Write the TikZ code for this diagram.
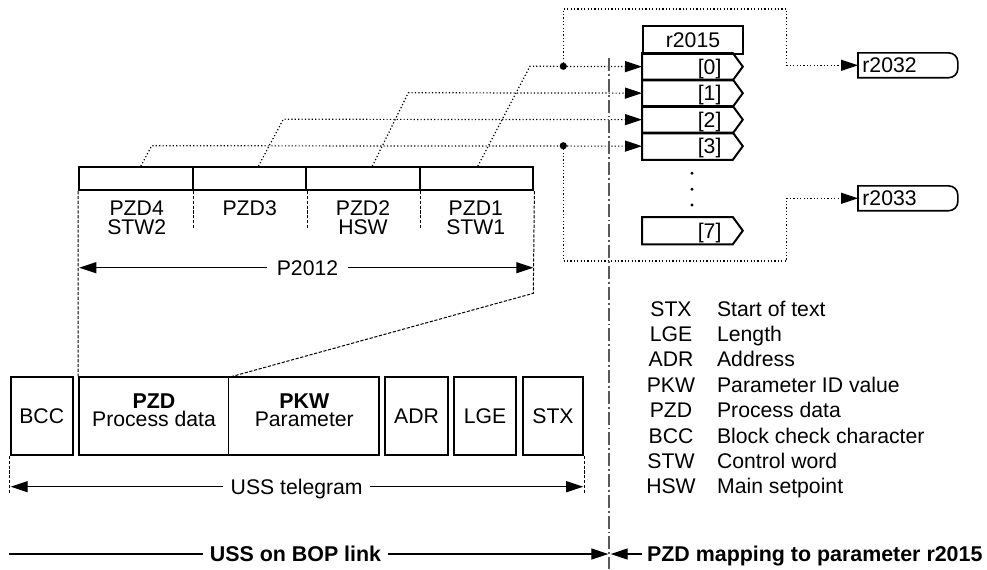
\documentclass[tikz,border=0pt]{standalone}
\usepackage{fontspec}
\setmainfont{Liberation Sans}
\usetikzlibrary{arrows.meta,calc}
\begin{document}
\begin{tikzpicture}[x=0.5pt,y=-0.5pt,
  every node/.style={font=\fontsize{10.6}{12}\selectfont},
  txt/.style={inner sep=0pt, text height=7.6pt, text depth=0pt},
  bold/.style={txt, font=\fontsize{10.7}{12}\selectfont\bfseries},
  boxl/.style={line width=1pt},
  thinl/.style={line width=0.6pt},
  dotl/.style={line width=0.6pt, dash pattern=on 0.6pt off 1.1pt},
  dashl/.style={line width=0.5pt, dash pattern=on 1.6pt off 0.8pt},
  dashdotl/.style={line width=0.75pt, black!65, dash pattern=on 6.5pt off 1.5pt on 0.9pt off 1.5pt},
  tip/.style={-{Triangle[length=8.5pt,width=5.5pt]}},
  rowbox/.style={inner sep=0pt, minimum width=45pt, minimum height=13.25pt, anchor=north west},
  cell/.style={draw, line width=1.1pt, inner sep=0pt, minimum width=56.75pt, minimum height=11.35pt},
  tbox/.style={draw, boxl, txt, minimum height=38.85pt},
  dotn/.style={circle, fill, inner sep=0pt, minimum size=3.6pt},
  outbox/.style={txt, inner xsep=2pt, text width=45.5pt, minimum height=12pt, anchor=west}
]
\path[use as bounding box] (0,0) rectangle (987,569);

% ---------- r2015 block ----------
\node[draw, boxl, txt, minimum width=50pt, minimum height=14pt, anchor=north west] (hdr) at (642,25) {r2015};
\node[rowbox] (r0) at (642,53) {};
\node[rowbox] (r1) at (642,79.5) {};
\node[rowbox] (r2) at (642,106) {};
\node[rowbox] (r3) at (642,132.5) {};
\node[rowbox] (r7) at (642,217) {};
\foreach \r/\t in {r0/{[0]},r1/{[1]},r2/{[2]},r3/{[3]},r7/{[7]}}{
  \draw[boxl] (\r.north west) -- (\r.north east) -- ($(\r.east)+(10,0)$) -- (\r.south east) -- (\r.south west) -- cycle;
  \node[txt, anchor=east] (\r t) at ($(\r.east)+(-11,0)$) {\t};
}
\foreach \yy [count=\k] in {173.3,189.3,205}{
  \node[circle, fill, inner sep=0pt, minimum size=1.6pt] (vd\k) at (692,\yy) {};
}

% ---------- output boxes ----------
\node[outbox] (r32) at (858,65.3) {r2032};
\node[outbox] (r33) at (858,198.3) {r2033};
\foreach \o in {r32,r33}{
  \draw[line width=0.8pt] (\o.north west) -- ($(\o.north east)+(-9,0)$)
     arc[start angle=90,end angle=0,radius=4.5pt] -- ($(\o.south east)+(0,-9)$)
     arc[start angle=0,end angle=-90,radius=4.5pt] -- (\o.south west) -- cycle;
}

% ---------- PZD cells ----------
\node[cell] (z4) at (136.05,178.65) {};
\node[cell] (z3) at (249.55,178.65) {};
\node[cell] (z2) at (363.05,178.65) {};
\node[cell] (z1) at (476.55,178.65) {};
\node[txt] (t4a) at (136.7,207.5) {PZD4};
\node[txt] (t4b) at (136.7,227) {STW2};
\node[txt] (t3a) at (249.7,207.5) {PZD3};
\node[txt] (t2a) at (363,207.5) {PZD2};
\node[txt] (t2b) at (363,227) {HSW};
\node[txt] (t1a) at (475.8,207.5) {PZD1};
\node[txt] (t1b) at (475.8,227) {STW1};
\foreach \z in {z4,z3,z2}{
  \draw[dashl] (\z.south east) -- ++(0,38.3);
}

% P2012 dimension
\node[txt, inner xsep=4.75pt] (p2012) at (307.5,267.7) {P2012};
\coordinate (pL) at (79.3,267.7);
\coordinate (pR) at (533.3,267.7);
\draw[thinl, tip] (p2012.west) -- (pL);
\draw[thinl, tip] (p2012.east) -- (pR);

% ---------- mapping connectors ----------
\draw[dotl, tip] ($(z1.north)+(1.2,0)$) -- (530,66.25) -- (r0.west);
\draw[dotl, tip] ($(z2.north)+(9.3,0)$) -- (408.3,92.75) -- (r1.west);
\draw[dotl, tip] ($(z3.north)+(8.8,0)$) -- (283.3,119.25) -- (r2.west);
\draw[dotl, tip] ($(z4.north)+(4.7,0)$) -- (151.7,145.75) -- (r3.west);
\node[dotn] (d0) at (563.3,66.25) {};
\node[dotn] (d3) at (563.3,145.75) {};
\draw[dotl, tip] (d0.center) -- (563.3,9) -- (786.7,9) |- (r32.west);
\draw[dotl, tip] (d3.center) -- (563.3,261) -- (786.7,261) |- (r33.west);

% ---------- USS telegram ----------
\node[tbox, minimum width=31pt] (bcc) at (41.7,416.15) {BCC};
\node[tbox, minimum width=149.9pt] (big) at (229.1,416.15) {};
\node[tbox, minimum width=31.2pt] (adr) at (416.6,416.15) {ADR};
\node[tbox, minimum width=30.8pt] (lge) at (485.1,416.15) {LGE};
\node[tbox, minimum width=30.2pt] (stx) at (553,416.15) {STX};
\coordinate (pdiv) at (228.9,377.3);
\draw[line width=0.5pt] (pdiv) -- (228.9,455);
\node[bold] (pzdb) at (154,400.6) {PZD};
\node[txt] (pzdt) at (154,419) {Process data};
\node[bold] (pkwb) at (304.3,400.6) {PKW};
\node[txt] (pkwt) at (304.3,419) {Parameter};

% projection lines
\draw[dashl] (z4.south west) -- (big.north west);
\draw[dashl] (z1.south east) -- (533.3,293.3) -- (pdiv);

% telegram dimension
\draw[dashl] (bcc.south west) -- ++(0,37.7);
\draw[dashl] (stx.south east) -- ++(0,37.7);
\node[txt, inner xsep=3.5pt] (tel) at (296.7,486.7) {USS telegram};
\coordinate (tL) at (10.7,486.7);
\coordinate (tR) at (583.2,486.7);
\draw[thinl, tip] (tel.west) -- (tL);
\draw[thinl, tip] (tel.east) -- (tR);

% ---------- legend ----------
\foreach \a/\d [count=\k from 0] in {STX/Start of text, LGE/Length, ADR/Address, PKW/Parameter ID value, PZD/Process data, BCC/Block check character, STW/Control word, HSW/Main setpoint}{
  \node[txt] (la\k) at (671,{308.5+25.4*\k}) {\a};
  \node[txt, anchor=west] (ld\k) at (716.7,{308.5+25.4*\k}) {\d};
}

% ---------- separator and bottom ----------
\coordinate (sepT) at (609,58);
\coordinate (sepB) at (609,569);
\draw[dashdotl] (sepT) -- (sepB);
\node[bold, inner xsep=3.3pt] (bop) at (295.5,554) {USS on BOP link};
\coordinate (bL) at (9.4,554);
\coordinate (bR) at (608.3,554);
\draw[thinl] (bop.west) -- (bL);
\draw[thinl, tip] (bop.east) -- (bR);
\node[bold, inner xsep=2.5pt, anchor=west] (pzdmap) at (641.7,554) {PZD mapping to parameter r2015};
\coordinate (bR2) at (610.7,554);
\draw[thinl, tip] (pzdmap.west) -- (bR2);
\end{tikzpicture}
\end{document}
